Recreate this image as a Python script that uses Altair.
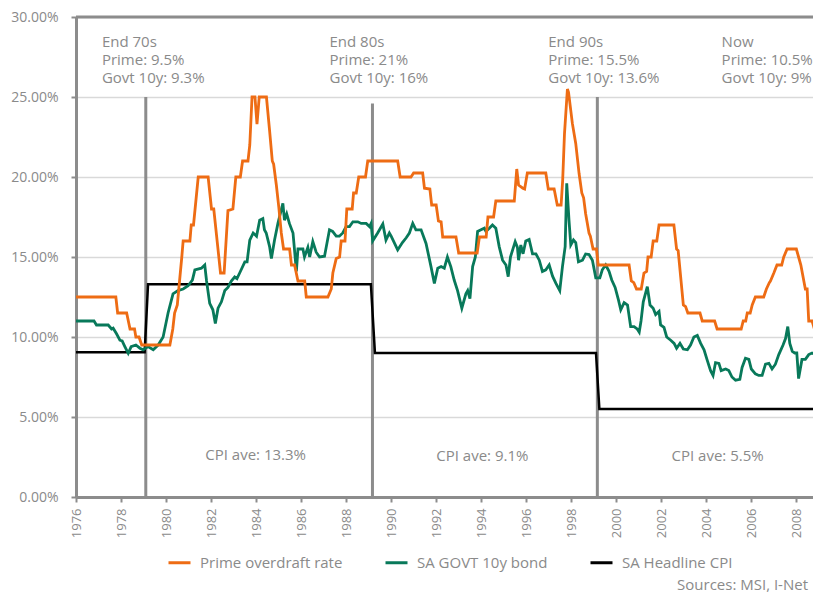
import altair as alt
import pandas as pd

# ---------------- data ----------------
prime_year = [1976.0, 1977.77, 1977.85, 1978.25, 1978.4, 1978.6, 1978.66, 1978.8, 1978.92, 1980.17,
              1980.3, 1980.38, 1980.5, 1980.7, 1980.76, 1981.06, 1981.12, 1981.22, 1981.43, 1981.87,
              1982.02, 1982.12, 1982.42, 1982.58, 1982.75, 1982.97, 1983.1, 1983.3, 1983.4, 1983.64,
              1983.72, 1983.82, 1983.95, 1984.04, 1984.14, 1984.46, 1984.6, 1984.72, 1984.78, 1984.9,
              1985.01, 1985.12, 1985.22, 1985.49, 1985.57, 1985.71, 1985.86, 1986.16, 1986.23, 1987.19,
              1987.34, 1987.41, 1987.56, 1987.71, 1987.78, 1987.95, 1988.03, 1988.27, 1988.33, 1988.45,
              1988.56, 1988.86, 1988.96, 1990.29, 1990.4, 1990.88, 1991.0, 1991.4, 1991.48, 1991.72,
              1991.8, 1992.0, 1992.1, 1992.22, 1992.29, 1992.88, 1993.0, 1993.82, 1993.92, 1994.22,
              1994.3, 1994.55, 1994.65, 1995.47, 1995.58, 1995.66, 1995.85, 1995.93, 1996.05, 1996.87,
              1996.98, 1997.24, 1997.38, 1997.55, 1997.62, 1997.7, 1997.83, 1997.88, 1998.05, 1998.2,
              1998.35, 1998.47, 1998.55, 1998.64, 1998.79, 1998.85, 1998.97, 1999.12, 1999.2, 2000.57,
              2000.67, 2000.78, 2000.9, 2001.11, 2001.23, 2001.35, 2001.41, 2001.55, 2001.64, 2001.8,
              2001.9, 2002.56, 2002.68, 2002.75, 2002.98, 2003.08, 2003.18, 2003.72, 2003.82, 2004.37,
              2004.48, 2005.55, 2005.64, 2005.75, 2005.82, 2005.95, 2006.04, 2006.18, 2006.55, 2006.67,
              2006.8, 2006.85, 2007.0, 2007.14, 2007.35, 2007.44, 2007.59, 2008.0, 2008.1, 2008.2,
              2008.4, 2008.48, 2008.55, 2008.7, 2008.8, 2009.05]
prime_rate = [12.5, 12.5, 11.5, 11.5, 10.5, 10.5, 10.0, 10.0, 9.5, 9.5,
              10.5, 11.5, 12.0, 15.0, 16.0, 16.0, 17.0, 17.0, 20.0, 20.0,
              18.0, 18.0, 14.0, 14.0, 17.9, 18.0, 20.0, 20.0, 21.0, 21.0,
              22.0, 25.0, 25.0, 23.3, 25.0, 25.0, 22.9, 21.0, 20.8, 19.5,
              18.1, 16.5, 15.5, 15.5, 14.5, 14.5, 13.5, 13.5, 12.5, 12.5,
              13.0, 14.0, 14.9, 15.0, 16.0, 16.0, 18.0, 18.0, 19.0, 19.0,
              20.0, 20.0, 21.0, 21.0, 20.0, 20.0, 20.25, 20.25, 19.3, 19.25,
              18.25, 18.25, 17.25, 17.2, 16.25, 16.25, 15.25, 15.25, 16.25, 16.25,
              17.5, 17.5, 18.5, 18.5, 20.5, 19.5, 19.3, 19.25, 20.25, 20.25,
              19.25, 19.25, 18.25, 18.25, 19.8, 22.7, 25.5, 25.3, 23.35, 22.1,
              20.2, 19.0, 18.7, 17.7, 16.5, 16.3, 15.5, 15.5, 14.5, 14.5,
              13.5, 13.4, 13.0, 13.0, 14.0, 14.1, 15.0, 15.0, 16.0, 16.0,
              17.0, 17.0, 15.5, 15.4, 12.0, 11.9, 11.5, 11.5, 11.0, 11.0,
              10.5, 10.5, 11.0, 11.0, 11.5, 11.5, 12.0, 12.5, 12.5, 13.0,
              13.4, 13.5, 14.0, 14.5, 14.5, 15.0, 15.5, 15.5, 15.0, 14.5,
              13.0, 13.0, 11.0, 11.0, 10.5, 10.5]

bond_year = [1976.0, 1976.8, 1976.91, 1977.43, 1977.58, 1977.65, 1977.8, 1977.95, 1978.05, 1978.17,
             1978.32, 1978.45, 1978.66, 1978.84, 1978.98, 1979.2, 1979.43, 1979.65, 1979.87, 1980.09,
             1980.31, 1980.53, 1980.76, 1980.98, 1981.17, 1981.28, 1981.57, 1981.72, 1981.8, 1981.94,
             1982.08, 1982.19, 1982.31, 1982.46, 1982.61, 1982.75, 1982.9, 1983.05, 1983.15, 1983.27,
             1983.5, 1983.6, 1983.72, 1983.87, 1984.02, 1984.16, 1984.3, 1984.37, 1984.45, 1984.6,
             1984.68, 1984.82, 1984.97, 1985.19, 1985.26, 1985.36, 1985.48, 1985.64, 1985.71, 1985.79,
             1985.86, 1986.08, 1986.15, 1986.3, 1986.38, 1986.52, 1986.67, 1986.82, 1987.04, 1987.26,
             1987.4, 1987.56, 1987.7, 1987.85, 1988.0, 1988.15, 1988.3, 1988.52, 1988.67, 1988.89,
             1989.04, 1989.11, 1989.18, 1989.4, 1989.63, 1989.77, 1989.92, 1990.0, 1990.29, 1990.5,
             1990.67, 1990.81, 1990.96, 1991.1, 1991.33, 1991.55, 1991.77, 1991.92, 1992.07, 1992.22,
             1992.36, 1992.5, 1992.65, 1992.8, 1992.95, 1993.14, 1993.32, 1993.4, 1993.5, 1993.62,
             1993.74, 1993.84, 1993.99, 1994.14, 1994.21, 1994.36, 1994.5, 1994.65, 1994.8, 1994.95,
             1995.1, 1995.2, 1995.3, 1995.51, 1995.61, 1995.66, 1995.76, 1995.86, 1995.98, 1996.13,
             1996.28, 1996.43, 1996.58, 1996.72, 1996.87, 1997.02, 1997.17, 1997.32, 1997.49, 1997.61,
             1997.73, 1997.8, 1997.9, 1997.98, 1998.1, 1998.2, 1998.32, 1998.5, 1998.64, 1998.79,
             1998.94, 1999.09, 1999.27, 1999.38, 1999.53, 1999.68, 1999.8, 1999.95, 2000.1, 2000.2,
             2000.35, 2000.5, 2000.64, 2000.79, 2000.93, 2001.02, 2001.1, 2001.2, 2001.38, 2001.5,
             2001.64, 2001.75, 2001.9, 2001.97, 2002.12, 2002.24, 2002.42, 2002.57, 2002.68, 2002.83,
             2002.98, 2003.16, 2003.3, 2003.45, 2003.6, 2003.75, 2003.9, 2004.04, 2004.19, 2004.3,
             2004.41, 2004.56, 2004.66, 2004.86, 2005.0, 2005.14, 2005.3, 2005.49, 2005.59, 2005.74,
             2005.89, 2006.0, 2006.18, 2006.33, 2006.48, 2006.63, 2006.78, 2006.92, 2007.07, 2007.22,
             2007.41, 2007.52, 2007.62, 2007.71, 2007.82, 2007.93, 2008.02, 2008.1, 2008.25, 2008.4,
             2008.55, 2008.7, 2008.85, 2009.05]
bond_rate = [11.0, 11.0, 10.75, 10.75, 10.5, 10.55, 10.2, 9.8, 9.75, 9.4,
             8.98, 9.4, 9.5, 9.3, 9.2, 9.4, 9.2, 9.5, 10.0, 11.5,
             12.7, 12.9, 13.0, 13.2, 13.56, 14.2, 14.3, 14.5, 13.5, 12.1,
             11.7, 10.85, 11.8, 12.2, 12.9, 13.1, 13.5, 13.75, 13.65, 14.0,
             14.7, 14.7, 16.06, 16.5, 16.3, 17.3, 17.4, 16.7, 16.5, 15.65,
             14.9, 16.06, 17.1, 18.35, 17.3, 17.7, 17.1, 16.5, 15.4, 14.1,
             15.5, 15.5, 15.0, 15.6, 15.0, 15.96, 15.3, 15.0, 15.05, 16.7,
             16.6, 16.3, 16.3, 16.5, 16.9, 16.9, 17.2, 17.2, 17.1, 17.1,
             16.9, 17.1, 16.0, 16.5, 17.06, 16.06, 16.5, 16.3, 15.44, 15.9,
             16.2, 16.5, 17.1, 16.7, 16.7, 15.85, 14.4, 13.35, 14.3, 14.4,
             14.3, 15.0, 14.4, 13.56, 12.9, 11.8, 12.7, 12.9, 12.4, 14.4,
             15.0, 16.6, 16.7, 16.8, 16.6, 16.8, 17.0, 16.8, 15.65, 14.8,
             14.5, 13.77, 15.0, 15.96, 15.6, 14.8, 15.75, 15.2, 16.0, 16.1,
             15.2, 15.2, 14.8, 14.1, 14.2, 14.5, 13.8, 13.35, 12.9, 14.4,
             15.65, 19.6, 17.3, 15.75, 16.06, 15.9, 14.7, 14.8, 15.19, 15.15,
             14.8, 13.7, 13.7, 14.2, 14.5, 14.1, 13.56, 13.1, 12.3, 11.7,
             12.15, 12.0, 10.65, 10.65, 10.5, 10.3, 11.0, 12.2, 13.15, 12.0,
             11.8, 11.4, 11.6, 10.75, 10.6, 10.0, 9.8, 9.6, 9.3, 9.6,
             9.25, 9.2, 9.5, 10.0, 10.1, 9.6, 9.2, 8.56, 7.9, 7.6,
             8.4, 8.35, 7.9, 8.0, 7.9, 7.5, 7.3, 7.35, 8.1, 8.67,
             8.6, 8.0, 7.7, 7.6, 7.6, 8.3, 8.35, 8.0, 8.3, 8.9,
             9.5, 9.9, 10.65, 9.6, 9.1, 9.0, 9.0, 7.4, 8.6, 8.6,
             8.9, 9.0, 8.9, 9.2]

cpi_year = [1976.0, 1979.05, 1979.2, 1989.1, 1989.28, 1999.1, 1999.25, 2009.05]
cpi_rate = [9.05, 9.05, 13.3, 13.3, 9.0, 9.0, 5.5, 5.5]

series_names = ["Prime overdraft rate", "SA GOVT 10y bond", "SA Headline CPI"]
series_colors = ["#EE6C14", "#08795A", "#000000"]

divider_year = [1979.1, 1989.17, 1999.16]
divider_top = [25.0, 24.6, 25.0]

note_lines = [["End 70s", "Prime: 9.5%", "Govt 10y: 9.3%"],
              ["End 80s", "Prime: 21%", "Govt 10y: 16%"],
              ["End 90s", "Prime: 15.5%", "Govt 10y: 13.6%"],
              ["Now", "Prime: 10.5%", "Govt 10y: 9%"]]
note_year = [1977.15, 1987.26, 1996.98, 2004.68]
note_level = [28.9, 27.775, 26.65]   # one level per text line

cpi_note_text = ["CPI ave: 13.3%", "CPI ave: 9.1%", "CPI ave: 5.5%"]
cpi_note_year = [1983.98, 1994.05, 2004.5]
cpi_note_level = [2.65, 2.55, 2.55]

year_ticks = list(range(1976, 2009, 2))
y_ticks = [0, 5, 10, 15, 20, 25, 30]
source_text = "Sources: MSI, I-Net"

# ---------------- tables ----------------
prime_df = pd.DataFrame({"year": prime_year, "rate": prime_rate, "series": series_names[0]})
bond_df = pd.DataFrame({"year": bond_year, "rate": bond_rate, "series": series_names[1]})
cpi_df = pd.DataFrame({"year": cpi_year, "rate": cpi_rate, "series": series_names[2]})
div_df = pd.DataFrame({"year": divider_year, "top": divider_top, "bottom": [0] * 3})
note_rows = []
for yr, lines in zip(note_year, note_lines):
    for lv, txt in zip(note_level, lines):
        note_rows.append({"year": yr, "level": lv, "text": txt})
note_df = pd.DataFrame(note_rows)
cpi_note_df = pd.DataFrame({"year": cpi_note_year, "level": cpi_note_level, "text": cpi_note_text})

GREY = "#8a8a8a"
AXIS_GREY = "#8c8c8c"
FONT = "Open Sans"

X_END = 2008.74
x_scale = alt.Scale(domain=[1976, X_END], nice=False, zero=False)
y_scale = alt.Scale(domain=[0, 30], nice=False)

x_axis = alt.Axis(values=year_ticks, format="d", labelAngle=270, labelAlign="right",
                  labelBaseline="middle", labelFontSize=13, labelColor=GREY, labelFont=FONT,
                  labelPadding=6, tickSize=5, tickWidth=2, tickColor=AXIS_GREY,
                  domainColor=AXIS_GREY, domainWidth=3, grid=False, title=None,
                  labelOverlap=False, labelFlush=False)
y_axis = alt.Axis(values=y_ticks, labelExpr="format(datum.value, '.2f') + '%'",
                  labelFontSize=14, labelColor=GREY, labelFont=FONT, labelPadding=13,
                  tickSize=5, tickWidth=2, tickColor=AXIS_GREY, domainColor=AXIS_GREY,
                  domainWidth=3, grid=True, gridColor="#d9d9d9", gridWidth=1.5, title=None)

color = alt.Color("series:N",
                  scale=alt.Scale(domain=series_names, range=series_colors),
                  legend=alt.Legend(title=None, orient="none", legendX=91, legendY=533,
                                    direction="horizontal", symbolType="stroke",
                                    symbolStrokeWidth=3, symbolSize=484, labelFontSize=15,
                                    labelColor=GREY, labelFont=FONT, labelOffset=8,
                                    columnPadding=36))

base_x = alt.X("year:Q", scale=x_scale, axis=x_axis)
base_y = alt.Y("rate:Q", scale=y_scale, axis=y_axis)

top_rule = alt.Chart(pd.DataFrame({"v": [30]})).mark_rule(color=AXIS_GREY, strokeWidth=3).encode(
    y=alt.Y("v:Q", scale=y_scale))

dividers = alt.Chart(div_df).mark_rule(color=AXIS_GREY, strokeWidth=3).encode(
    x=alt.X("year:Q", scale=x_scale), y=alt.Y("top:Q", scale=y_scale), y2="bottom:Q")

cpi_line = alt.Chart(cpi_df).mark_line(strokeWidth=2.5, clip=True).encode(
    x=base_x, y=base_y, color=color, order="year:Q")
bond_line = alt.Chart(bond_df).mark_line(strokeWidth=2.8, clip=True).encode(
    x=base_x, y=base_y, color=color, order="year:Q")
prime_line = alt.Chart(prime_df).mark_line(strokeWidth=2.8, clip=True).encode(
    x=base_x, y=base_y, color=color, order="year:Q")

notes = alt.Chart(note_df).mark_text(align="left", baseline="top", fontSize=15, font=FONT,
                                     color=GREY).encode(
    x=alt.X("year:Q", scale=x_scale), y=alt.Y("level:Q", scale=y_scale), text="text:N")

cpi_notes = alt.Chart(cpi_note_df).mark_text(align="center", baseline="middle", fontSize=15,
                                             font=FONT, color=GREY).encode(
    x=alt.X("year:Q", scale=x_scale), y=alt.Y("level:Q", scale=y_scale), text="text:N")

source = alt.Chart(pd.DataFrame({"t": [source_text]})).mark_text(
    align="right", baseline="middle", fontSize=15, font=FONT, color=GREY).encode(
    text="t:N", x=alt.value(732), y=alt.value(568))

chart = alt.layer(top_rule, dividers, cpi_line, bond_line, prime_line, notes, cpi_notes, source).properties(
    width=737, height=480,
    autosize=alt.AutoSizeParams(type="none"),
    padding={"left": 68, "top": 9, "right": 0, "bottom": 96},
).configure_view(stroke=None).configure(font=FONT)

chart.save("out.html", embed_options={"renderer": "svg", "actions": False})
